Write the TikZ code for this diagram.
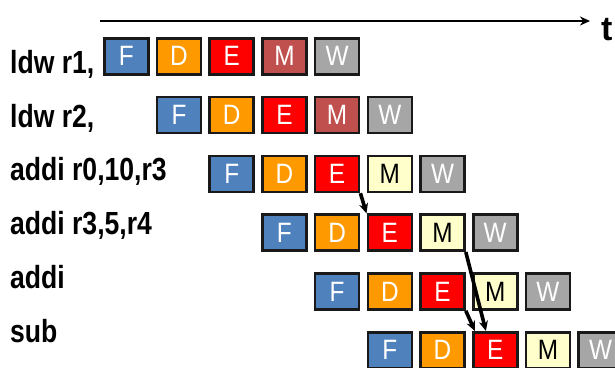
\documentclass[tikz,border=0pt]{standalone}
\usepackage{fontspec}
\setmainfont{Liberation Sans}
\usetikzlibrary{arrows.meta}
\definecolor{cF}{HTML}{4F81BD}
\definecolor{cD}{HTML}{FF9900}
\definecolor{cE}{HTML}{FF0000}
\definecolor{cMd}{HTML}{C0504D}
\definecolor{cMl}{HTML}{FFFFCC}
\definecolor{cW}{HTML}{A6A6A6}
\newcommand\lbltxt[1]{\scalebox{0.83}[1]{\fontsize{32}{32}\selectfont\bfseries #1}}
\newcommand\boxtxt[1]{\scalebox{0.87}[1]{\fontsize{28}{28}\selectfont #1}}
\begin{document}
\begin{tikzpicture}[x=1pt,y=-1pt,
  stage/.style={draw=black!90,line width=2.6pt,minimum width=44pt,minimum height=36pt,inner sep=0pt,text=white},
  sF/.style={stage,fill=cF},
  sD/.style={stage,fill=cD},
  sE/.style={stage,fill=cE},
  sMd/.style={stage,fill=cMd},
  sMl/.style={stage,fill=cMl,text=black},
  sW/.style={stage,fill=cW},
  lbl/.style={anchor=base west,inner sep=0pt},
  dep/.style={line width=3.6pt,-{Stealth[length=10pt,width=9pt]}}]
\useasboundingbox (0,0) rectangle (615,367);
\begin{scope}
\clip (0,0) rectangle (615,367);
% time axis
\coordinate (t0) at (100,21);
\coordinate (t1) at (590,21);
\draw[line width=2.8pt,-{Stealth[length=10pt,width=9pt]}] (t0) -- (t1);
\node[lbl] (tlab) at (601,40) {\fontsize{34}{34}\selectfont\bfseries t};
% labels
\node[lbl] (l1) at (10,73) {\lbltxt{ldw r1,}};
\node[lbl] (l2) at (10,127) {\lbltxt{ldw r2,}};
\node[lbl] (l3) at (10,180) {\lbltxt{addi r0,10,r3}};
\node[lbl] (l4) at (10,234) {\lbltxt{addi r3,5,r4}};
\node[lbl] (l5) at (10,288) {\lbltxt{addi}};
\node[lbl] (l6) at (10,342) {\lbltxt{sub}};
% stages
\foreach \r/\mst in {1/sMd,2/sMd,3/sMl,4/sMl,5/sMl,6/sMl}{
  \pgfmathsetmacro{\yy}{56.3+58.8*(\r-1)}
  \pgfmathsetmacro{\xx}{126.3+52.7*(\r-1)}
  \node[sF] (F\r) at (\xx,\yy) {\boxtxt{F}};
  \node[sD] (D\r) at (\xx+52.7,\yy) {\boxtxt{D}};
  \node[sE] (E\r) at (\xx+105.4,\yy) {\boxtxt{E}};
  \node[\mst] (M\r) at (\xx+158.1,\yy) {\boxtxt{M}};
  \node[sW] (W\r) at (\xx+210.8,\yy) {\boxtxt{W}};
}
% dependencies
\draw[dep] (E3.south east) -- (E4.north west);
\draw[dep] (E5.south east) -- ([xshift=3pt]E6.north west);
\draw[dep] (M4.south east) -- ([xshift=14pt]E6.north west);
\end{scope}
\end{tikzpicture}
\end{document}
